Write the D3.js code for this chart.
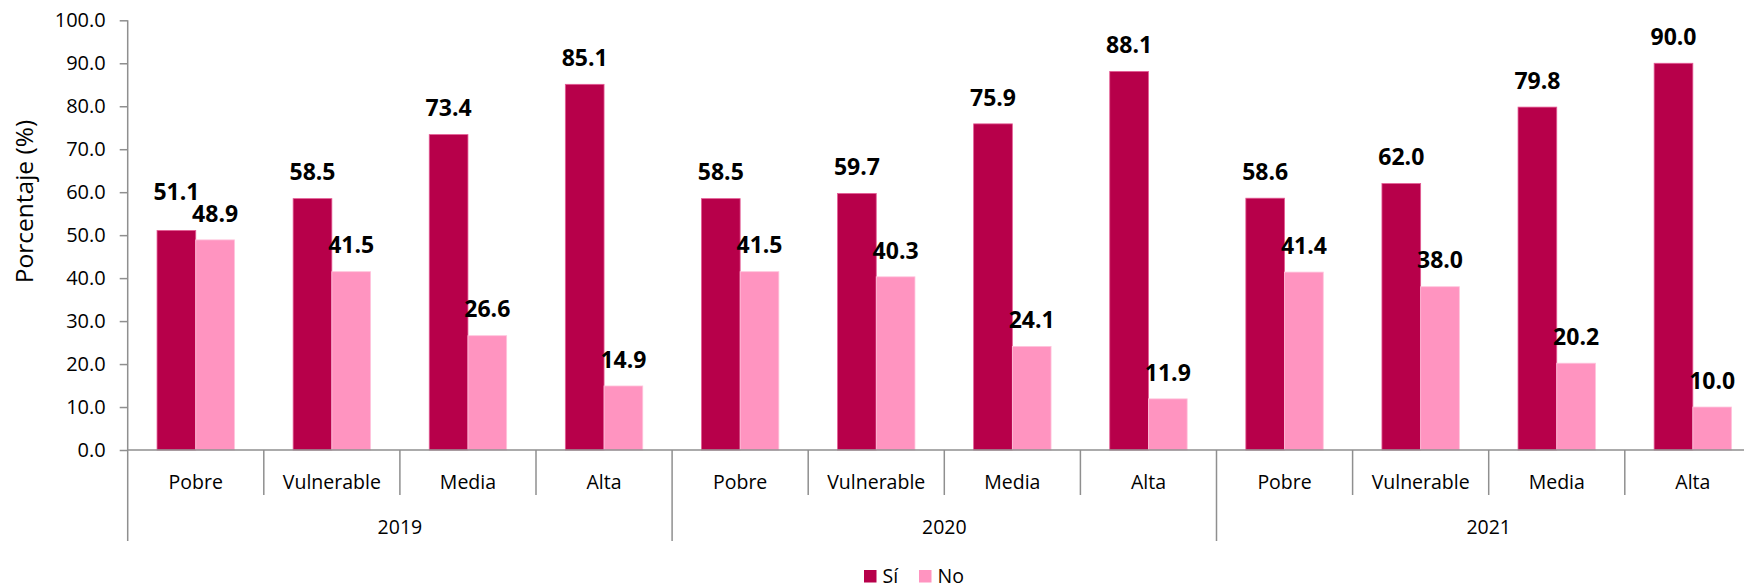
<!DOCTYPE html>
<html>
<head>
<meta charset="utf-8">
<script src="https://cdn.jsdelivr.net/npm/d3@7"></script>
<style>
  html, body { margin: 0; padding: 0; background: #fff; }
  svg { display: block; font-family: "Open Sans", "Noto Sans", sans-serif; }
</style>
</head>
<body>
<svg id="chart" width="1744" height="585"></svg>
<script>
const years = ["2019", "2020", "2021"];
const classes = ["Pobre", "Vulnerable", "Media", "Alta"];
const seriesNames = ["Sí", "No"];
const siValues = [51.1, 58.5, 73.4, 85.1, 58.5, 59.7, 75.9, 88.1, 58.6, 62.0, 79.8, 90.0];
const noValues = [48.9, 41.5, 26.6, 14.9, 41.5, 40.3, 24.1, 11.9, 41.4, 38.0, 20.2, 10.0];
const yTicks = [0, 10, 20, 30, 40, 50, 60, 70, 80, 90, 100];
const colors = { "Sí": "#B7004A", "No": "#FF94C0" };
const strokes = { "Sí": "#E45C95", "No": "#FFC4DC" };

const svg = d3.select("#chart");
const x0 = 127.7, step = 136.1;
const cats = [];
years.forEach(y => classes.forEach(c => cats.push(y + "|" + c)));
const rows = cats.map((k, i) => ({ key: k, year: k.split("|")[0], cls: k.split("|")[1], "Sí": siValues[i], "No": noValues[i] }));

const x = d3.scaleBand().domain(cats).range([x0, x0 + step * cats.length]).paddingInner(0).paddingOuter(0);
const xs = d3.scaleBand().domain(seriesNames).range([0, x.bandwidth()]).paddingInner(0).paddingOuter(0.758);
const y = d3.scaleLinear().domain([0, 100]).range([450, 20.3]);

const axisColor = "#8f8f8f";

// bars
const g = svg.append("g");
rows.forEach(r => {
  seriesNames.forEach(s => {
    g.append("rect")
      .attr("x", x(r.key) + xs(s))
      .attr("y", y(r[s]))
      .attr("width", xs.bandwidth())
      .attr("height", y(0) - y(r[s]))
      .attr("fill", colors[s])
      .attr("stroke", strokes[s])
      .attr("stroke-width", 0.8);
  });
});

// data labels (with simple collision avoidance like Excel)
rows.forEach(r => {
  const noBase = y(r["No"]) - 18.3;
  let siBase = y(r["Sí"]) - 18.3;
  if (siBase > noBase - 21.7) siBase = noBase - 21.7;
  [["Sí", siBase], ["No", noBase]].forEach(([s, b]) => {
    svg.append("text")
      .attr("x", x(r.key) + xs(s) + xs.bandwidth() / 2)
      .attr("y", b)
      .attr("text-anchor", "middle")
      .attr("font-size", "23px")
      .attr("font-weight", "bold")
      .attr("fill", "#000")
      .text(d3.format(".1f")(r[s]));
  });
});

// y axis
const yAxis = d3.axisLeft(y).tickValues(yTicks).tickFormat(d3.format(".1f")).tickSize(8).tickPadding(14);
const ya = svg.append("g").attr("transform", `translate(${x0},0)`).call(yAxis);
ya.select(".domain").remove();
ya.selectAll(".tick line").attr("stroke", axisColor).attr("stroke-width", 1.5);
ya.selectAll(".tick text").attr("font-size", "20px").attr("fill", "#000").attr("font-family", "Open Sans, Noto Sans, sans-serif");
svg.append("line").attr("x1", x0).attr("x2", x0).attr("y1", y(100)).attr("y2", 541)
  .attr("stroke", axisColor).attr("stroke-width", 1.5);

// x axis baseline
svg.append("line").attr("x1", x0).attr("x2", x0 + step * cats.length).attr("y1", y(0)).attr("y2", y(0))
  .attr("stroke", axisColor).attr("stroke-width", 1.5);

// category separators
cats.forEach((k, i) => {
  if (i === 0) return;
  const xx = x(k);
  const isYear = i % classes.length === 0;
  svg.append("line").attr("x1", xx).attr("x2", xx).attr("y1", y(0)).attr("y2", isYear ? 541 : 495)
    .attr("stroke", axisColor).attr("stroke-width", 1.5);
});

// category labels
rows.forEach(r => {
  svg.append("text")
    .attr("x", x(r.key) + x.bandwidth() / 2)
    .attr("y", 489)
    .attr("text-anchor", "middle")
    .attr("font-size", "19.5px")
    .attr("fill", "#000")
    .text(r.cls);
});

// year labels
years.forEach((yr, i) => {
  const first = x(yr + "|" + classes[0]);
  const last = x(yr + "|" + classes[classes.length - 1]) + x.bandwidth();
  svg.append("text")
    .attr("x", (first + last) / 2)
    .attr("y", 534)
    .attr("text-anchor", "middle")
    .attr("font-size", "19.5px")
    .attr("fill", "#000")
    .text(yr);
});

// y title
svg.append("text")
  .attr("transform", `translate(33,201.5) rotate(-90)`)
  .attr("text-anchor", "middle")
  .attr("font-size", "24.5px")
  .attr("fill", "#000")
  .text("Porcentaje (%)");

// legend
const legendX = [864, 919];
seriesNames.forEach((s, i) => {
  svg.append("rect").attr("x", legendX[i]).attr("y", 570).attr("width", 12.5).attr("height", 12.5).attr("fill", colors[s]);
  svg.append("text").attr("x", legendX[i] + 18.5).attr("y", 583).attr("font-size", "19.5px").attr("fill", "#000").text(s);
});
</script>
</body>
</html>
